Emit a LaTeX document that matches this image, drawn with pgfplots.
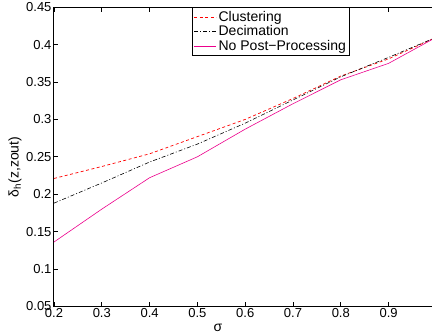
\documentclass[border=0pt]{standalone}
\usepackage{pgfplots}
\pgfplotsset{compat=1.18}
\usepackage{fontspec}
\setmainfont{Liberation Sans}
\begin{document}
\begin{tikzpicture}
\useasboundingbox (-54pt,-29.7pt) rectangle (378pt,306.3pt);
\begin{axis}[
  at={(0,0)}, anchor=south west,
  scale only axis, width=382.4pt, height=299pt,
  xmin=0.2, xmax=1, ymin=0.05, ymax=0.45,
  xtick={0.2,0.3,0.4,0.5,0.6,0.7,0.8,0.9},
  ytick={0.05,0.1,0.15,0.2,0.25,0.3,0.35,0.4,0.45},
  ytick pos=left,
  tick align=inside, major tick length=4.5pt,
  axis line style={line width=1pt},
  tick style={line width=0.7pt, black},
  ticklabel style={font=\fontsize{13}{15}\selectfont},
  /pgf/number format/assume math mode=true,
  scaled ticks=false,
  yticklabel style={/pgf/number format/fixed, /pgf/number format/precision=2, xshift=1pt},
  xticklabel style={/pgf/number format/fixed, /pgf/number format/precision=1, yshift=1pt},
  xlabel={σ}, ylabel={δ\textsubscript{h}(z,zout)},
  xlabel style={at={(rel axis cs:0.429,-0.0736)}, anchor=center, font=\fontsize{14}{16}\selectfont},
  ylabel style={at={(rel axis cs:-0.102,0.466)}, anchor=center, font=\fontsize{14}{16}\selectfont},
  legend cell align=left,
  legend style={at={(rel axis cs:0.361,1)}, anchor=north west, draw=black, line width=0.8pt,
    font=\fontsize{14}{16}\selectfont, inner sep=1.5pt, row sep=-1pt},
  legend image code/.code={\draw[#1] (0pt,0pt) -- (22pt,0pt);},
]
\addplot[red, line width=0.7pt, dash pattern=on 3pt off 2.5pt] coordinates {
(0.2,0.221) (0.3,0.237) (0.4,0.254) (0.5,0.277) (0.6,0.300) (0.7,0.328) (0.8,0.358) (0.9,0.381) (1.0,0.41)};
\addlegendentry{Clustering}
\addplot[black, line width=0.6pt, dash pattern=on 4pt off 2pt on 1pt off 2pt] coordinates {
(0.2,0.188) (0.3,0.215) (0.4,0.243) (0.5,0.267) (0.6,0.295) (0.7,0.326) (0.8,0.357) (0.9,0.383) (1.0,0.41)};
\addlegendentry{Decimation}
\addplot[magenta, line width=0.6pt] coordinates {
(0.2,0.136) (0.3,0.180) (0.4,0.222) (0.5,0.250) (0.6,0.287) (0.7,0.321) (0.8,0.353) (0.9,0.375) (1.0,0.41)};
\addlegendentry{No Post−Processing}
\end{axis}
\end{tikzpicture}
\end{document}
